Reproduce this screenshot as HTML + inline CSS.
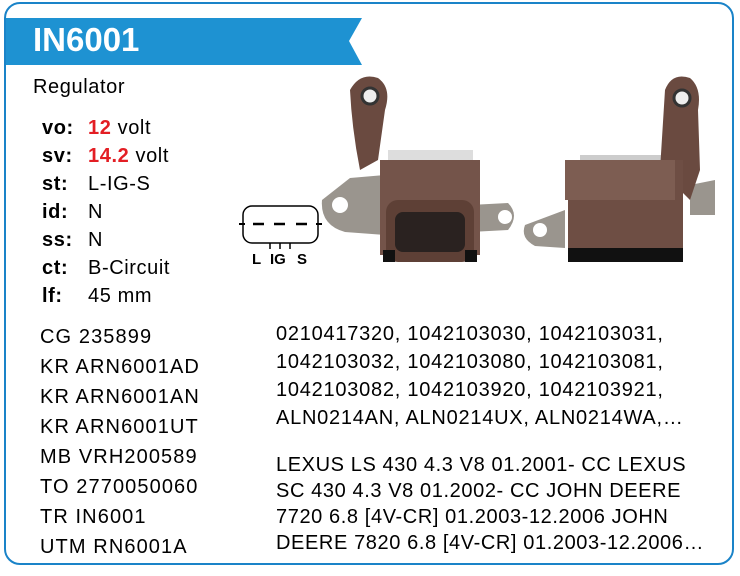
<!DOCTYPE html>
<html><head><meta charset="utf-8"><style>
body{margin:0;width:740px;height:576px;background:#fff;position:relative;overflow:hidden;font-family:"Liberation Sans",Arial,sans-serif;color:#000}
.card{position:absolute;left:4px;top:2px;width:726px;height:559px;border:2px solid #1a83c8;border-radius:16px}
.t{position:absolute;font-size:20px;letter-spacing:0.6px;white-space:nowrap;line-height:22px}
.b{font-weight:bold}
.r{color:#e31e24;font-weight:bold}
</style></head><body>
<div class="card"></div>
<svg style="position:absolute;left:0;top:0" width="740" height="576">
<polygon points="6,18 362,18 349,41 362,65 6,65" fill="#1e92d2"/>
<rect x="243" y="206" width="75" height="37" rx="9" fill="none" stroke="#000" stroke-width="1.5"/>
<line x1="239" y1="224" x2="245" y2="224" stroke="#000" stroke-width="2"/>
<line x1="316" y1="224" x2="322" y2="224" stroke="#000" stroke-width="2"/>
<g stroke="#000" stroke-width="2.5"><line x1="253" y1="224" x2="264" y2="224"/><line x1="274" y1="224" x2="285" y2="224"/><line x1="296" y1="224" x2="307" y2="224"/></g>
<g stroke="#000" stroke-width="1.5"><line x1="270" y1="243" x2="270" y2="249"/><line x1="280" y1="243" x2="280" y2="249"/><line x1="290" y1="243" x2="290" y2="249"/></g>
<text x="252" y="264" font-family="Liberation Sans,sans-serif" font-weight="bold" font-size="15">L</text>
<text x="270" y="264" font-family="Liberation Sans,sans-serif" font-weight="bold" font-size="15">IG</text>
<text x="297" y="264" font-family="Liberation Sans,sans-serif" font-weight="bold" font-size="15">S</text>
<path d="M322,200 L350,178 L385,175 L385,235 L345,232 Q320,225 322,200Z" fill="#9a958e"/>
<circle cx="340" cy="205" r="8" fill="#fff"/>
<path d="M470,205 L508,203 Q520,215 508,230 L470,232Z" fill="#9a958e"/>
<circle cx="505" cy="217" r="7" fill="#fff"/>
<path d="M350,90 Q360,72 378,78 Q392,88 385,110 L378,160 L360,170 Q352,130 350,90Z" fill="#6a4a40"/>
<circle cx="370" cy="96" r="8" fill="#eee" stroke="#333" stroke-width="3"/>
<rect x="388" y="150" width="85" height="18" fill="#ddd"/>
<rect x="380" y="160" width="100" height="95" fill="#74544a"/>
<rect x="386" y="200" width="88" height="62" rx="12" fill="#5e4036"/>
<rect x="395" y="212" width="70" height="40" rx="8" fill="#2a2220"/>
<rect x="383" y="250" width="12" height="12" fill="#111"/><rect x="465" y="250" width="12" height="12" fill="#111"/>
<path d="M525,225 L565,210 L565,248 L535,246 Q520,238 525,225Z" fill="#9a958e"/>
<circle cx="540" cy="230" r="7" fill="#fff"/>
<path d="M690,185 L715,180 L715,215 L690,215Z" fill="#9a958e"/>
<rect x="580" y="155" width="95" height="10" fill="#ccc"/>
<path d="M665,90 Q672,72 690,78 Q702,88 698,110 L700,170 L690,200 L660,170Z" fill="#6a4a40"/>
<circle cx="682" cy="98" r="8" fill="#eee" stroke="#333" stroke-width="3"/>
<rect x="568" y="160" width="115" height="92" fill="#6e4e44"/>
<rect x="565" y="160" width="110" height="40" fill="#7d5d52"/>
<rect x="568" y="248" width="115" height="14" fill="#111"/>
</svg>
<div class="t b" style="left:33px;top:20px;font-size:33px;line-height:40px;color:#fff;letter-spacing:0">IN6001</div>
<div class="t" style="left:33px;top:76px">Regulator</div>
<div class="t b" style="left:42px;top:117px">vo:</div><div class="t" style="left:88px;top:117px"><span class="r">12</span> volt</div>
<div class="t b" style="left:42px;top:145px">sv:</div><div class="t" style="left:88px;top:145px"><span class="r">14.2</span> volt</div>
<div class="t b" style="left:42px;top:173px">st:</div><div class="t" style="left:88px;top:173px">L-IG-S</div>
<div class="t b" style="left:42px;top:201px">id:</div><div class="t" style="left:88px;top:201px">N</div>
<div class="t b" style="left:42px;top:229px">ss:</div><div class="t" style="left:88px;top:229px">N</div>
<div class="t b" style="left:42px;top:257px">ct:</div><div class="t" style="left:88px;top:257px">B-Circuit</div>
<div class="t b" style="left:42px;top:285px">lf:</div><div class="t" style="left:88px;top:285px">45 mm</div>
<div class="t" style="left:40px;top:322px;line-height:30px;letter-spacing:1.1px">CG 235899<br>KR ARN6001AD<br>KR ARN6001AN<br>KR ARN6001UT<br>MB VRH200589<br>TO 2770050060<br>TR IN6001<br>UTM RN6001A</div>
<div class="t" style="left:276px;top:320px;line-height:28px;letter-spacing:0.75px">0210417320, 1042103030, 1042103031,<br>1042103032, 1042103080, 1042103081,<br>1042103082, 1042103920, 1042103921,<br>ALN0214AN, ALN0214UX, ALN0214WA,…</div>
<div class="t" style="left:276px;top:452px;line-height:26px;letter-spacing:0.6px">LEXUS LS 430 4.3 V8 01.2001- CC LEXUS<br>SC 430 4.3 V8 01.2002- CC JOHN DEERE<br>7720 6.8 [4V-CR] 01.2003-12.2006 JOHN<br>DEERE 7820 6.8 [4V-CR] 01.2003-12.2006…</div>
</body></html>
